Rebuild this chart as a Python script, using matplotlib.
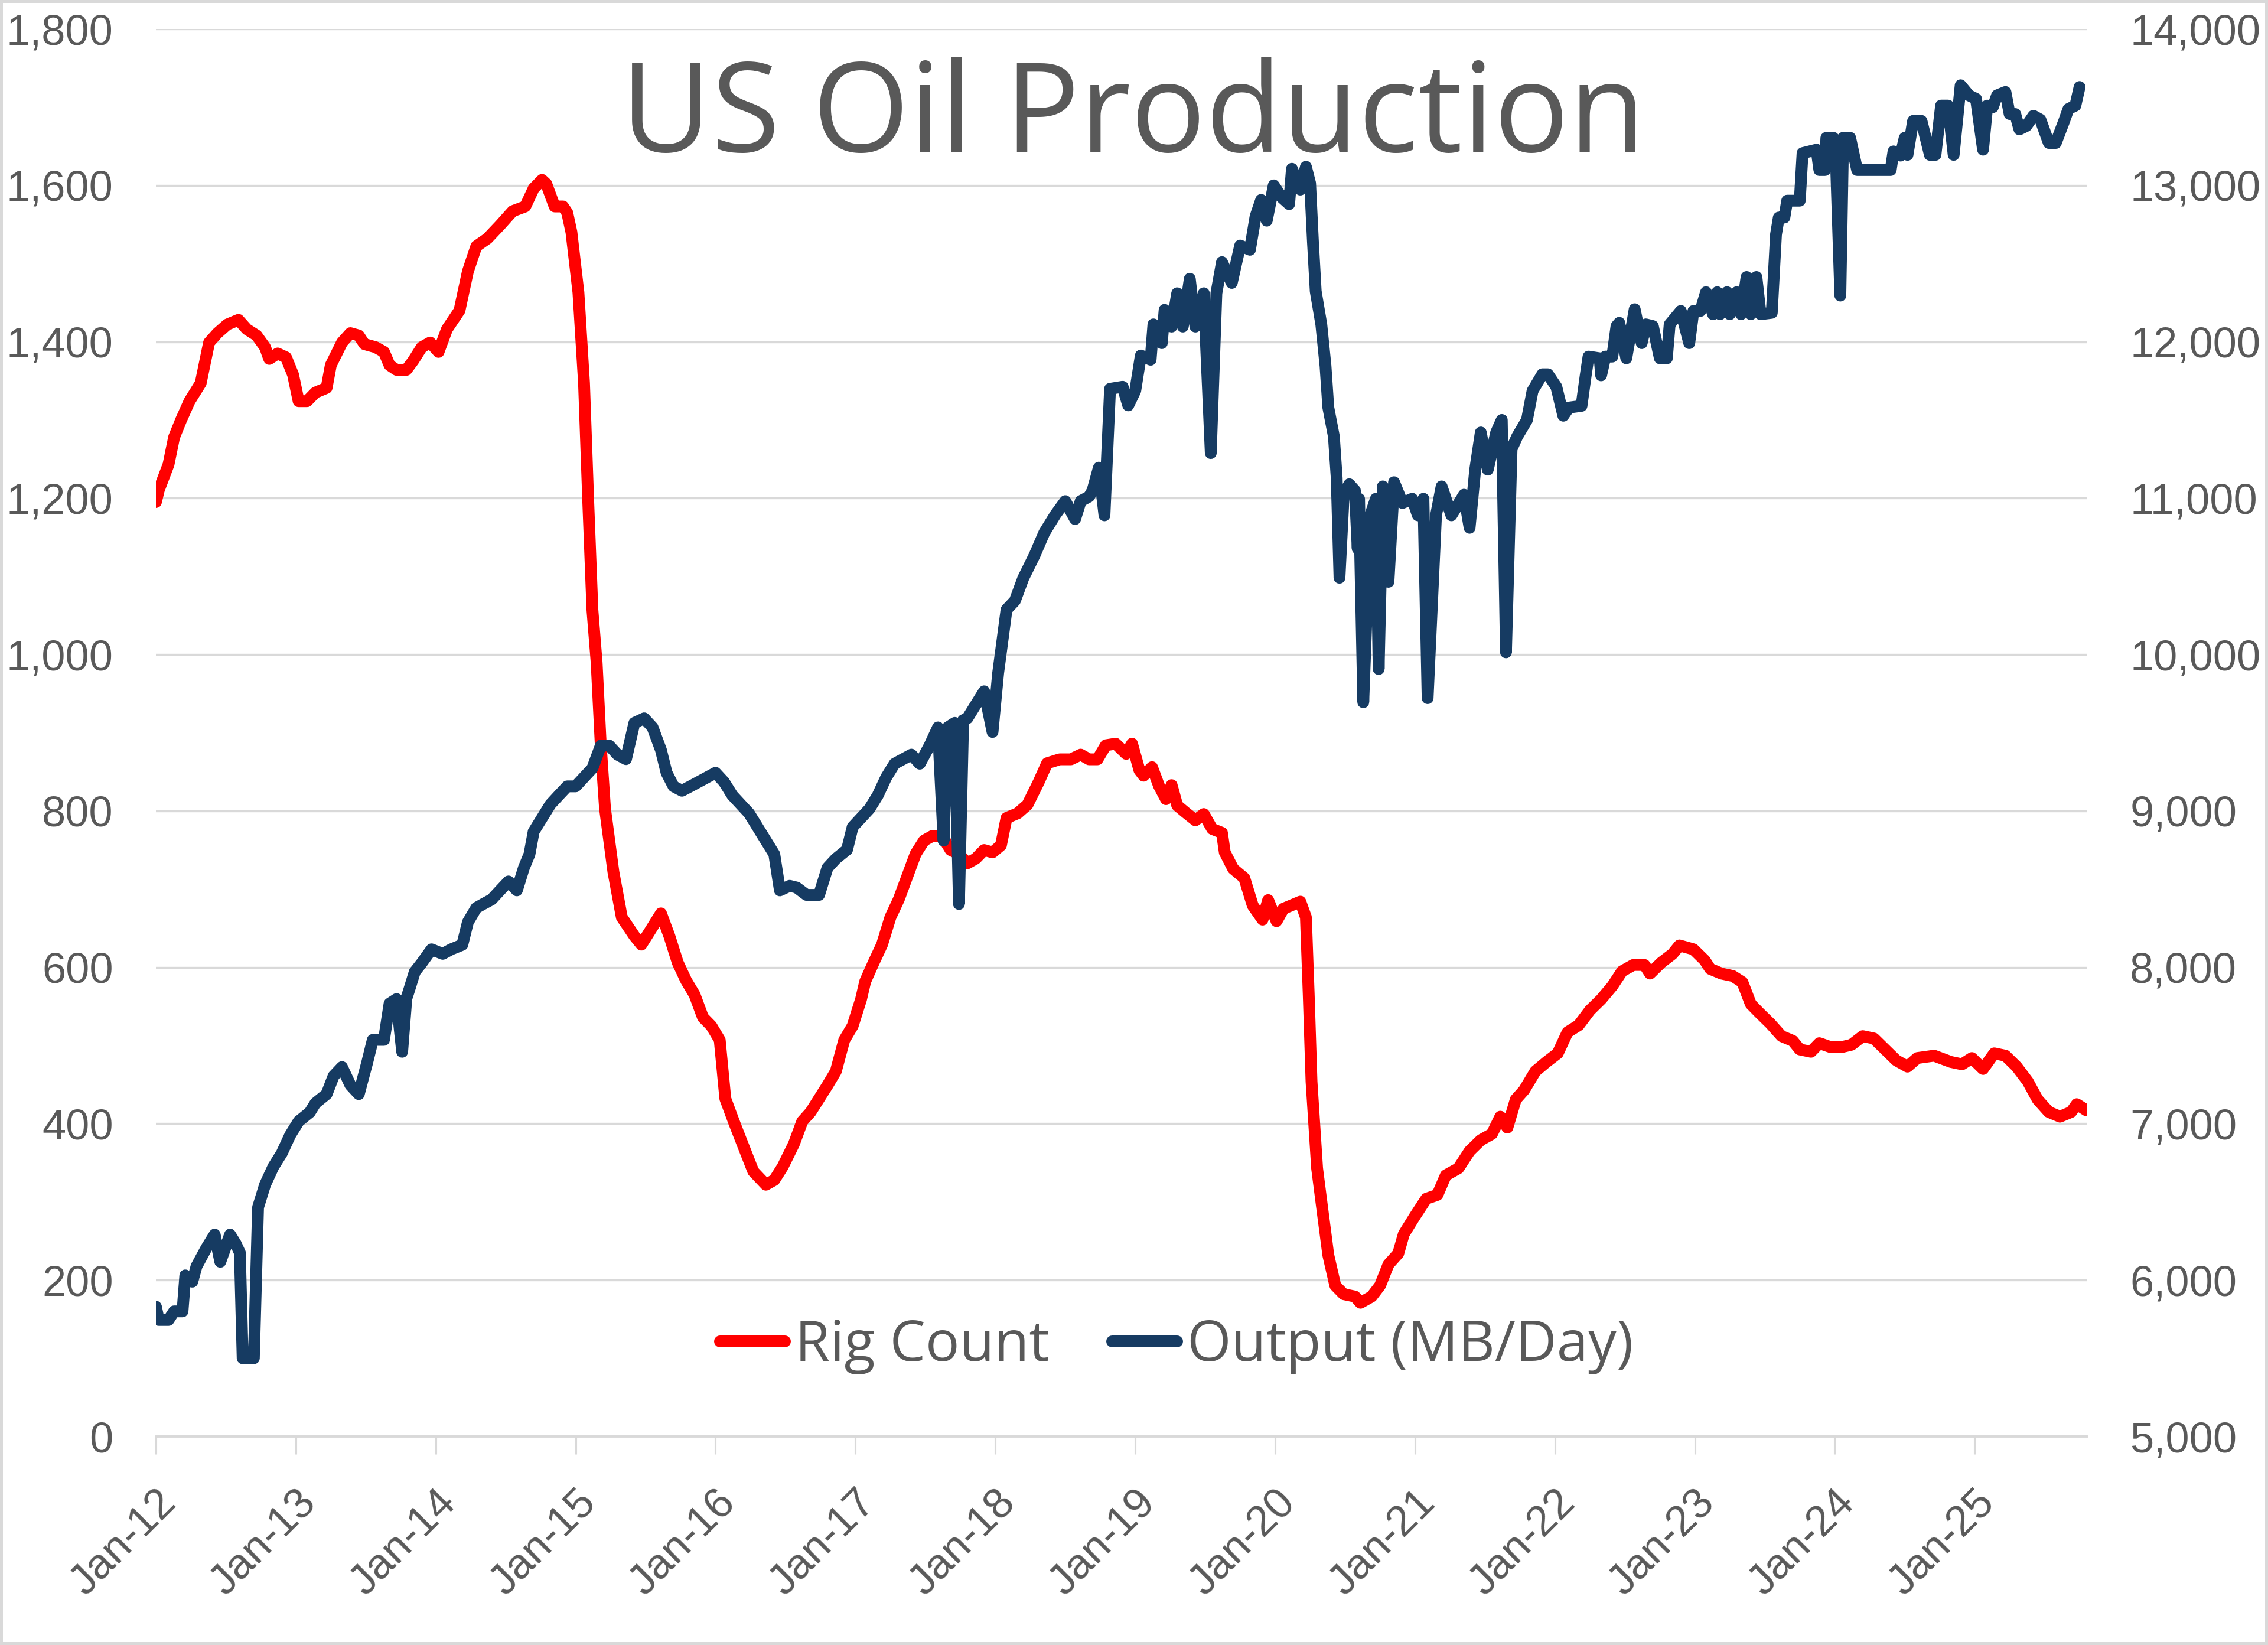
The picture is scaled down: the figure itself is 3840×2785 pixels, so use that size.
import matplotlib
matplotlib.use('Agg')
import matplotlib.pyplot as plt
from matplotlib.ticker import FuncFormatter
from matplotlib.patches import Rectangle

# ---------------- data ----------------
rig_year = [2012.00, 2012.02, 2012.09, 2012.13, 2012.18, 2012.24, 2012.32, 2012.38, 2012.44, 2012.51,
            2012.59, 2012.65, 2012.72, 2012.78, 2012.81, 2012.87, 2012.93, 2012.98, 2013.02, 2013.08,
            2013.14, 2013.22, 2013.25, 2013.33, 2013.39, 2013.45, 2013.49, 2013.57, 2013.63, 2013.67,
            2013.72, 2013.79, 2013.84, 2013.90, 2013.96, 2014.02, 2014.08, 2014.17, 2014.23, 2014.29,
            2014.37, 2014.46, 2014.55, 2014.64, 2014.70, 2014.76, 2014.79, 2014.85, 2014.91, 2014.94,
            2014.97, 2015.02, 2015.06, 2015.09, 2015.12, 2015.15, 2015.18, 2015.21, 2015.27, 2015.33,
            2015.42, 2015.47, 2015.53, 2015.61, 2015.67, 2015.73, 2015.79, 2015.85, 2015.91, 2015.97,
            2016.03, 2016.07, 2016.13, 2016.18, 2016.27, 2016.36, 2016.42, 2016.48, 2016.56, 2016.62,
            2016.68, 2016.74, 2016.80, 2016.86, 2016.92, 2016.98, 2017.04, 2017.07, 2017.13, 2017.19,
            2017.25, 2017.31, 2017.37, 2017.43, 2017.49, 2017.55, 2017.62, 2017.68, 2017.74, 2017.80,
            2017.86, 2017.92, 2017.98, 2018.04, 2018.08, 2018.16, 2018.23, 2018.31, 2018.37, 2018.46,
            2018.54, 2018.61, 2018.67, 2018.73, 2018.79, 2018.86, 2018.935, 2018.977, 2019.03, 2019.06,
            2019.12, 2019.17, 2019.22, 2019.26, 2019.30, 2019.36, 2019.43, 2019.49, 2019.55, 2019.62,
            2019.64, 2019.70, 2019.78, 2019.84, 2019.91, 2019.95, 2020.01, 2020.06, 2020.14, 2020.18,
            2020.22, 2020.24, 2020.26, 2020.30, 2020.34, 2020.38, 2020.43, 2020.49, 2020.57, 2020.61,
            2020.69, 2020.75, 2020.81, 2020.88, 2020.92, 2021.00, 2021.08, 2021.16, 2021.22, 2021.31,
            2021.39, 2021.47, 2021.55, 2021.61, 2021.66, 2021.72, 2021.78, 2021.86, 2021.94, 2022.02,
            2022.09, 2022.17, 2022.25, 2022.33, 2022.41, 2022.48, 2022.56, 2022.64, 2022.68, 2022.76,
            2022.84, 2022.89, 2022.99, 2023.07, 2023.11, 2023.19, 2023.27, 2023.34, 2023.40, 2023.46,
            2023.54, 2023.62, 2023.70, 2023.75, 2023.83, 2023.89, 2023.97, 2024.05, 2024.12, 2024.20,
            2024.28, 2024.36, 2024.44, 2024.52, 2024.59, 2024.71, 2024.83, 2024.91, 2024.98, 2025.06,
            2025.14, 2025.22, 2025.30, 2025.38, 2025.45, 2025.53, 2025.61, 2025.69, 2025.73, 2025.80]
rig_count = [1195, 1210, 1243, 1278, 1300, 1324, 1347, 1399, 1411, 1422,
             1428, 1416, 1408, 1393, 1378, 1385, 1380, 1358, 1324, 1324,
             1335, 1341, 1370, 1399, 1411, 1408, 1397, 1393, 1387, 1370,
             1364, 1364, 1376, 1393, 1399, 1387, 1416, 1440, 1490, 1522,
             1532, 1549, 1567, 1573, 1596, 1607, 1602, 1573, 1573, 1565,
             1540, 1463, 1347, 1196, 1057, 990, 883, 803, 722, 664,
             640, 629, 646, 669, 640, 606, 583, 565, 536, 525,
             507, 432, 403, 380, 339, 322, 328, 345, 374, 403,
             415, 432, 449, 467, 507, 525, 559, 582, 606, 629,
             664, 687, 716, 745, 762, 768, 768, 750, 745, 733,
             739, 750, 747, 756, 791, 797, 808, 837, 861, 866,
             866, 872, 866, 866, 884, 886, 873, 886, 852, 845,
             856, 832, 815, 833, 807, 798, 788, 796, 777, 772,
             747, 726, 714, 679, 661, 686, 659, 675, 681, 684,
             664, 565, 454, 343, 287, 232, 193, 182, 179, 171,
             179, 193, 220, 234, 259, 282, 304, 309, 334, 343,
             365, 379, 387, 409, 395, 431, 443, 467, 479, 490,
             517, 526, 545, 559, 576, 595, 603, 603, 592, 606,
             617, 628, 623, 609, 598, 592, 589, 581, 553, 542,
             528, 512, 506, 495, 492, 503, 498, 498, 501, 512,
             509, 495, 481, 473, 484, 487, 479, 476, 484, 470,
             490, 487, 473, 454, 431, 415, 409, 415, 425, 417]

out_year = [2012.00, 2012.02, 2012.09, 2012.13, 2012.19, 2012.21, 2012.26, 2012.29, 2012.36, 2012.42,
            2012.46, 2012.53, 2012.57, 2012.60, 2012.62, 2012.70, 2012.73, 2012.78, 2012.84, 2012.90,
            2012.96, 2013.02, 2013.10, 2013.14, 2013.22, 2013.27, 2013.33, 2013.39, 2013.45, 2013.51,
            2013.55, 2013.63, 2013.67, 2013.72, 2013.76, 2013.79, 2013.81, 2013.85, 2013.90, 2013.97,
            2014.05, 2014.11, 2014.19, 2014.23, 2014.29, 2014.34, 2014.40, 2014.46, 2014.52, 2014.58,
            2014.63, 2014.67, 2014.70, 2014.76, 2014.82, 2014.88, 2014.94, 2015.00, 2015.06, 2015.12,
            2015.18, 2015.24, 2015.30, 2015.36, 2015.42, 2015.49, 2015.55, 2015.61, 2015.65, 2015.70,
            2015.76, 2015.82, 2015.88, 2015.94, 2016.00, 2016.06, 2016.12, 2016.18, 2016.24, 2016.30,
            2016.36, 2016.42, 2016.46, 2016.53, 2016.58, 2016.65, 2016.74, 2016.80, 2016.86, 2016.94,
            2016.98, 2017.04, 2017.10, 2017.16, 2017.22, 2017.28, 2017.34, 2017.40, 2017.46, 2017.53,
            2017.59, 2017.63, 2017.66, 2017.71, 2017.74, 2017.77, 2017.80, 2017.86, 2017.92, 2017.98,
            2018.02, 2018.08, 2018.14, 2018.20, 2018.28, 2018.35, 2018.43, 2018.50, 2018.57, 2018.61,
            2018.67, 2018.695, 2018.74, 2018.78, 2018.82, 2018.91, 2018.95, 2019.00, 2019.04, 2019.11,
            2019.13, 2019.19, 2019.21, 2019.26, 2019.30, 2019.34, 2019.39, 2019.43, 2019.49, 2019.54,
            2019.58, 2019.62, 2019.69, 2019.75, 2019.82, 2019.86, 2019.90, 2019.94, 2019.99, 2020.05,
            2020.10, 2020.12, 2020.18, 2020.22, 2020.25, 2020.27, 2020.29, 2020.33, 2020.36, 2020.38,
            2020.42, 2020.44, 2020.46, 2020.49, 2020.53, 2020.57, 2020.59, 2020.60, 2020.63, 2020.68,
            2020.72, 2020.74, 2020.77, 2020.81, 2020.85, 2020.91, 2020.98, 2021.02, 2021.06, 2021.09,
            2021.15, 2021.19, 2021.26, 2021.35, 2021.39, 2021.43, 2021.47, 2021.52, 2021.58, 2021.62,
            2021.65, 2021.69, 2021.73, 2021.80, 2021.84, 2021.91, 2021.95, 2022.01, 2022.06, 2022.10,
            2022.19, 2022.22, 2022.24, 2022.32, 2022.33, 2022.36, 2022.41, 2022.44, 2022.46, 2022.51,
            2022.57, 2022.62, 2022.65, 2022.70, 2022.75, 2022.80, 2022.82, 2022.90, 2022.96, 2022.99,
            2023.04, 2023.08, 2023.13, 2023.16, 2023.18, 2023.23, 2023.25, 2023.30, 2023.33, 2023.37,
            2023.40, 2023.44, 2023.47, 2023.55, 2023.58, 2023.60, 2023.64, 2023.66, 2023.75, 2023.77,
            2023.87, 2023.89, 2023.93, 2023.94, 2023.99, 2024.01, 2024.04, 2024.06, 2024.11, 2024.16,
            2024.40, 2024.42, 2024.47, 2024.50, 2024.52, 2024.56, 2024.62, 2024.68, 2024.72, 2024.76,
            2024.81, 2024.85, 2024.90, 2024.96, 2025.01, 2025.06, 2025.09, 2025.13, 2025.16, 2025.22,
            2025.25, 2025.29, 2025.32, 2025.37, 2025.42, 2025.47, 2025.53, 2025.58, 2025.64, 2025.67,
            2025.72, 2025.75]
out_value = [5830, 5745, 5745, 5800, 5800, 6030, 5990, 6088, 6204, 6291,
             6117, 6291, 6233, 6175, 5500, 5500, 6465, 6610, 6726, 6812,
             6928, 7015, 7073, 7131, 7189, 7305, 7362, 7247, 7189, 7391,
             7536, 7536, 7768, 7797, 7460, 7800, 7855, 7971, 8028, 8115,
             8086, 8115, 8144, 8289, 8380, 8405, 8434, 8492, 8549, 8492,
             8636, 8723, 8868, 8955, 9042, 9100, 9157, 9157, 9215, 9273,
             9418, 9418, 9360, 9331, 9563, 9592, 9534, 9389, 9244, 9157,
             9129, 9157, 9186, 9215, 9244, 9186, 9100, 9042, 8984, 8897,
             8810, 8723, 8492, 8521, 8510, 8463, 8463, 8636, 8694, 8752,
             8897, 8955, 9013, 9100, 9215, 9302, 9331, 9360, 9302, 9418,
             9534, 8810, 9534, 9563, 8405, 9580, 9592, 9679, 9765, 9505,
             9881, 10287, 10344, 10489, 10634, 10779, 10895, 10981, 10866, 10981,
             11010, 11049, 11195, 10890, 11699, 11712, 11593, 11686, 11912, 11885,
             12111, 11991, 12204, 12097, 12310, 12097, 12403, 12097, 12310, 11288,
             12310, 12509, 12376, 12615, 12588, 12801, 12907, 12774, 13000, 12920,
             12880, 13106, 12973, 13119, 13013, 12642, 12323, 12111, 11845, 11580,
             11394, 11129, 10491, 11022, 11089, 11049, 10677, 10996, 9695, 10890,
             10996, 9907, 11075, 10465, 11102, 10969, 10996, 10890, 10996, 9721,
             10890, 11075, 10890, 11022, 10810, 11182, 11420, 11182, 11420, 11500,
             10014, 11314, 11394, 11500, 11686, 11792, 11792, 11712, 11527, 11579,
             11590, 11785, 11905, 11894, 11785, 11905, 11905, 12100, 12121, 11894,
             12208, 11991, 12111, 12100, 11894, 11894, 12111, 12197, 11991, 12197,
             12197, 12317, 12176, 12317, 12176, 12317, 12176, 12317, 12176, 12414,
             12176, 12414, 12176, 12185, 12685, 12794, 12794, 12902, 12902, 13206,
             13228, 13098, 13098, 13304, 13304, 13119, 12295, 13304, 13304, 13098,
             13098, 13217, 13190, 13304, 13195, 13412, 13412, 13195, 13195, 13510,
             13510, 13195, 13640, 13575, 13553, 13228, 13510, 13500, 13575, 13597,
             13456, 13456, 13358, 13380, 13445, 13420, 13271, 13271, 13412, 13488,
             13510, 13629]

xtick_years = [2012, 2013, 2014, 2015, 2016, 2017, 2018, 2019, 2020, 2021, 2022, 2023, 2024, 2025]
xtick_labels = ['Jan-12', 'Jan-13', 'Jan-14', 'Jan-15', 'Jan-16', 'Jan-17', 'Jan-18',
                'Jan-19', 'Jan-20', 'Jan-21', 'Jan-22', 'Jan-23', 'Jan-24', 'Jan-25']
left_ticks = [0, 200, 400, 600, 800, 1000, 1200, 1400, 1600, 1800]
right_ticks = [5000, 6000, 7000, 8000, 9000, 10000, 11000, 12000, 13000, 14000]
series_names = ['Rig Count', 'Output (MB/Day)']
title_text = 'US Oil Production'

# ---------------- styling ----------------
RED = '#FF0000'
BLUE = '#163B62'
TXT = '#595959'
GRID = '#D9D9D9'
LW = 7.2

fig = plt.figure(figsize=(19.2, 13.925), dpi=200)
ax = fig.add_axes([0.06875, 0.12675, 0.85156, 0.85565])
ax2 = ax.twinx()

l1, = ax.plot(rig_year, rig_count, color=RED, lw=LW,
              solid_joinstyle='round', solid_capstyle='round', zorder=3)
l2, = ax2.plot(out_year, out_value, color=BLUE, lw=LW,
               solid_joinstyle='round', solid_capstyle='round', zorder=3)

ax.set_xlim(2012.0, 2025.805)
ax.set_ylim(0, 1800)
ax2.set_ylim(5000, 14000)

ax.set_yticks(left_ticks)
ax2.set_yticks(right_ticks)
fmt = FuncFormatter(lambda v, p: f'{int(round(v)):,}')
ax.yaxis.set_major_formatter(fmt)
ax2.yaxis.set_major_formatter(fmt)

ax.yaxis.grid(True, color=GRID, lw=1.2)
ax.set_axisbelow(True)

for a in (ax, ax2):
    for s in ('left', 'right', 'top', 'bottom'):
        a.spines[s].set_visible(False)
ax.spines['bottom'].set_visible(True)
ax.spines['bottom'].set_color(GRID)
ax.spines['bottom'].set_linewidth(1.4)

tick_font = 'Liberation Sans'
ax.tick_params(axis='y', length=0, pad=26, labelsize=26, labelcolor=TXT)
ax2.tick_params(axis='y', length=0, pad=26, labelsize=26, labelcolor=TXT)
for lab in ax.get_yticklabels() + ax2.get_yticklabels():
    lab.set_fontfamily(tick_font)

ax.set_xticks(xtick_years)
ax.set_xticklabels(xtick_labels, rotation=45, ha='right', va='top',
                   rotation_mode='anchor', fontfamily=tick_font)
ax.tick_params(axis='x', length=10.8, width=1.1, color=GRID, labelsize=26,
               labelcolor=TXT, pad=17)

# title
fig.text(0.4995, 0.9077, title_text, ha='center', va='baseline',
         fontsize=76, color=TXT, family='Open Sans')

# legend
leg = ax.legend([l1, l2], series_names, loc='center', bbox_to_anchor=(0.5285, 0.064),
                ncol=2, frameon=False, handlelength=1.15,
                handletextpad=0.18, columnspacing=1.1, borderpad=0,
                prop={'family': 'Open Sans', 'size': 34.5})
for t in leg.get_texts():
    t.set_color(TXT)
for h in leg.legend_handles:
    h.set_solid_capstyle('round')
leg.set_zorder(5)

# figure border
fig.add_artist(Rectangle((0, 0), 1, 1, transform=fig.transFigure, fill=False,
                         edgecolor=GRID, lw=3.6))

fig.savefig('out.png', dpi=200)
